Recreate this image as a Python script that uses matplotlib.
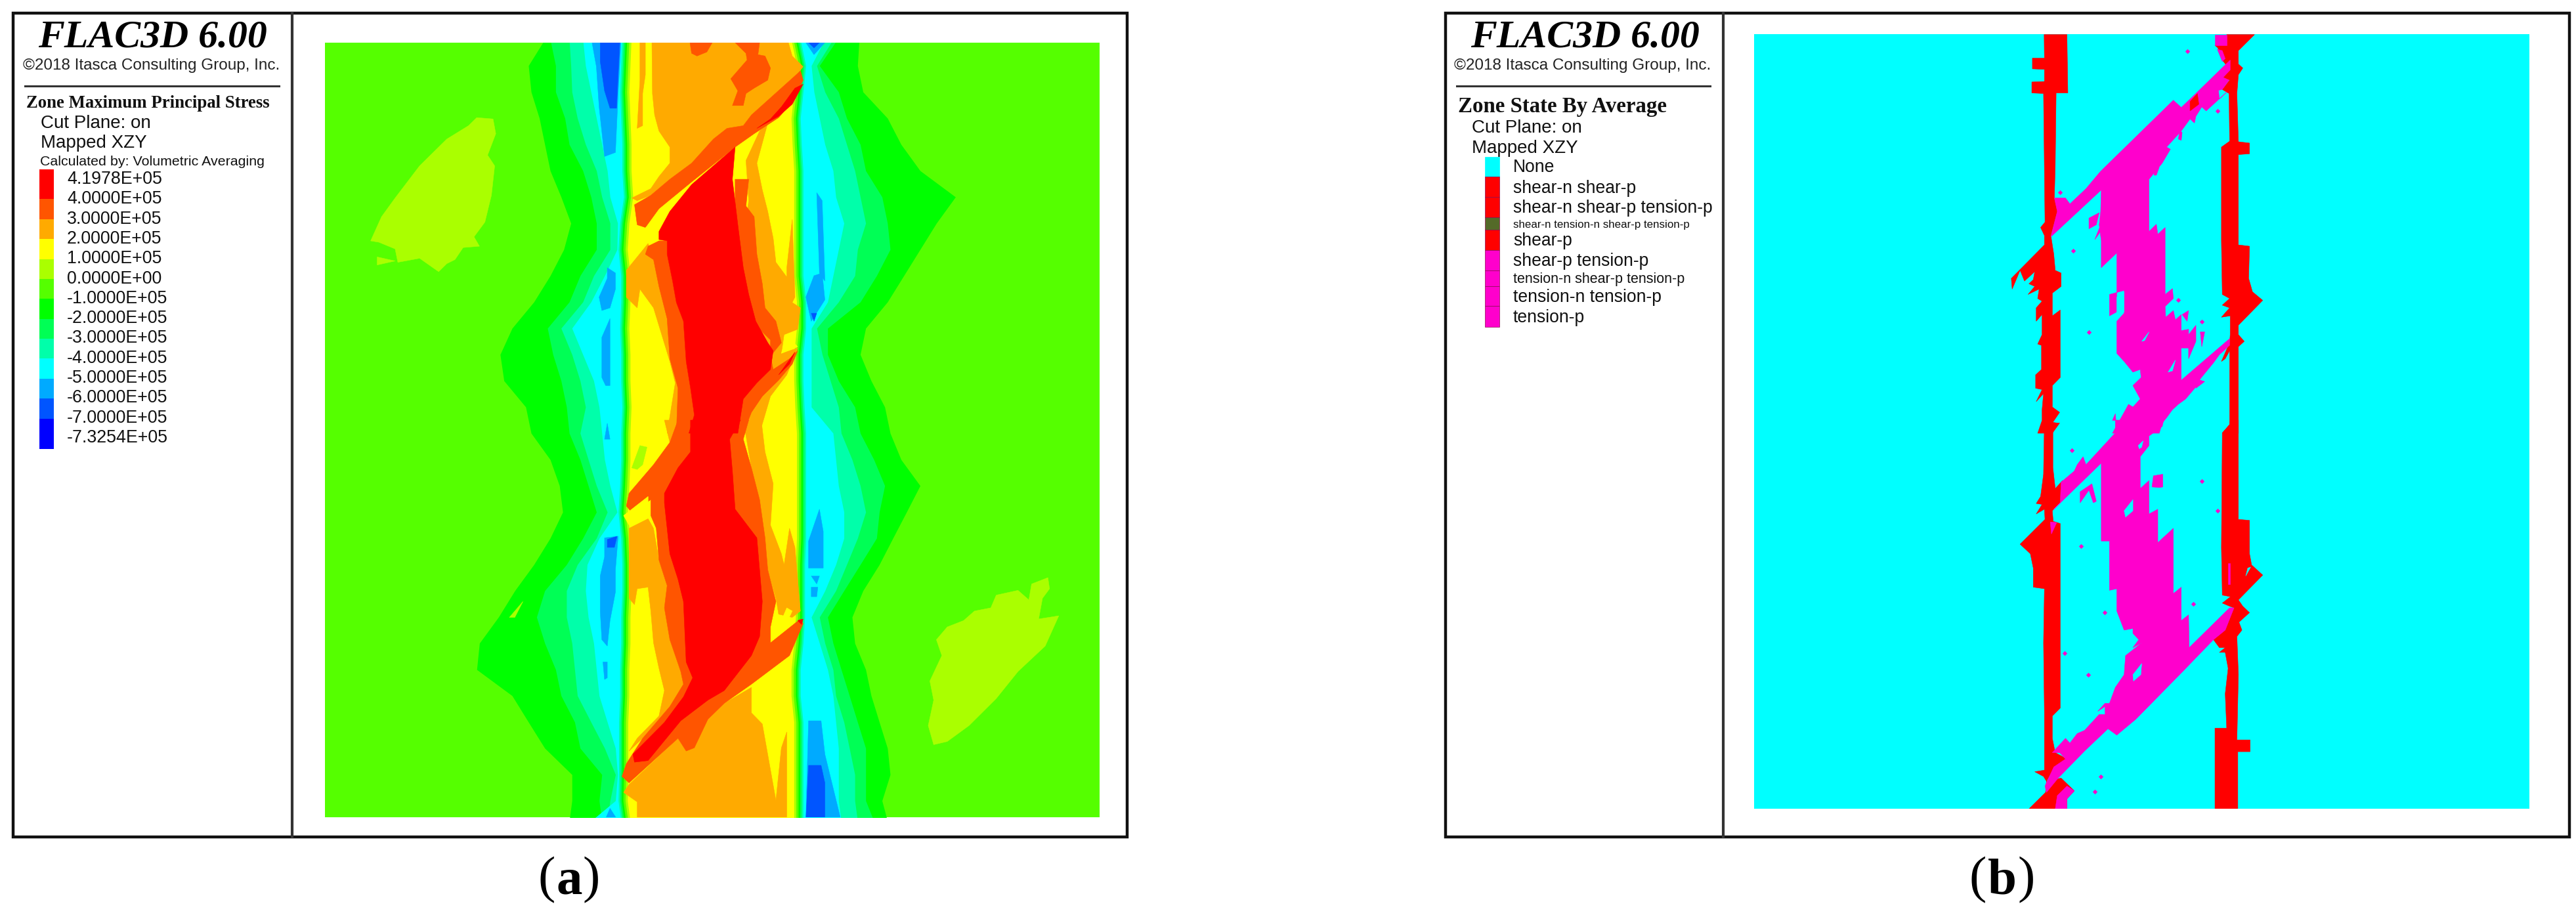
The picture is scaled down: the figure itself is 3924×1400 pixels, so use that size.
import numpy as np
import matplotlib
matplotlib.use("Agg")
import matplotlib.pyplot as plt
from matplotlib.patches import Rectangle

W, H, DPI = 3924, 1400, 100
SANS = ["Liberation Sans", "DejaVu Sans"]
SERIF = ["Liberation Serif", "DejaVu Serif"]

# ---------- text and legend content ----------
TITLE = "FLAC3D 6.00"
COPYRIGHT = "\u00a92018 Itasca Consulting Group, Inc."
STRESS_LEVELS = ["4.1978E+05", "4.0000E+05", "3.0000E+05", "2.0000E+05", "1.0000E+05",
                 "0.0000E+00", "-1.0000E+05", "-2.0000E+05", "-3.0000E+05", "-4.0000E+05",
                 "-5.0000E+05", "-6.0000E+05", "-7.0000E+05", "-7.3254E+05"]
STRESS_COLORS = ["#ff0000", "#ff5500", "#ffaa00", "#ffff00", "#aaff00", "#55ff00", "#00ff00",
                 "#00ff55", "#00ffaa", "#00ffff", "#00aaff", "#0055ff", "#0000ff"]
STRESS_EDGES = [258, 303, 334, 364, 395, 425, 455, 486, 516, 546, 577, 607, 638, 684]
STATE_LABELS = ["None", "shear-n shear-p", "shear-n shear-p tension-p",
                "shear-n tension-n shear-p tension-p", "shear-p", "shear-p tension-p",
                "tension-n shear-p tension-p", "tension-n tension-p", "tension-p"]
STATE_SIZES = [19.1, 19.1, 19.1, 12.2, 19.1, 19.1, 15.5, 19.1, 19.1]
STATE_Y = [255, 287, 317, 342, 367, 398, 425, 453, 484]
STATE_COLORS = ["#00ffff", "#ff0000", "#ff0000", "#546a28", "#ff0000", "#ff00cc", "#ff00cc", "#ff00cc", "#ff00cc"]
STATE_EDGES = [239, 269, 300, 331, 350, 381, 412, 436, 466, 498]

ROWS_UP = [110, 196, 294, 392, 490, 588, 686, 784, 882, 980, 1078, 1176, 1274, 1372, 1470]
ROWS_LO = [41, 124, 206, 289, 371, 454, 536, 619, 701, 784, 866, 949, 1031, 1114, 1196, 1260]

L_GREEN = [470, 440, 445, 460, 470, 480, 500, 518, 505, 480, 450, 410, 388, 395, 435,
           445, 480, 497, 503, 480, 450, 415, 385, 350, 345, 410, 440, 470, 520, 520, 515]
L_G55 = [480, 490, 490, 507, 515, 540, 555, 565, 565, 535, 515, 475, 485, 500, 510,
         515, 535, 550, 565, 540, 510, 470, 455, 470, 490, 500, 525, 535, 575, 570, 575]
L_GAA = [515, 518, 520, 530, 545, 565, 575, 590, 590, 560, 540, 500, 520, 535, 545,
         535, 550, 565, 585, 565, 530, 510, 510, 520, 525, 530, 555, 580, 600, 590, 585]
L_CYAN = [540, 545, 555, 565, 575, 585, 590, 604, 603, 580, 555, 520, 540, 560, 570,
          575, 580, 590, 603, 570, 548, 545, 550, 560, 565, 570, 585, 600, 604, 600, 555]
WALL_L = [612, 610, 608, 610, 612, 612, 615, 608, 605, 610, 610, 608, 610, 610, 612,
          610, 610, 608, 605, 610, 612, 612, 610, 610, 608, 608, 606, 606, 606, 605, 610]
WALL_R = [940, 950, 945, 940, 942, 945, 945, 945, 945, 945, 950, 950, 945, 945, 947,
          950, 950, 950, 950, 950, 948, 948, 948, 945, 940, 940, 945, 945, 945, 945, 945]
R_CYAN = [985, 960, 965, 975, 985, 1000, 1005, 1020, 1010, 1000, 990, 960, 960, 960, 960,
          1000, 1005, 1010, 1020, 1020, 1005, 985, 960, 975, 990, 1000, 1005, 1010, 1010, 1010, 1015]
R_GAA = [1000, 970, 985, 1010, 1025, 1040, 1050, 1060, 1045, 1040, 1010, 970, 980, 995, 1010,
         1015, 1035, 1050, 1060, 1045, 1025, 1005, 975, 985, 1000, 1005, 1020, 1030, 1040, 1040, 1045]
R_G55 = [1008, 975, 1010, 1025, 1050, 1060, 1090, 1100, 1105, 1080, 1050, 990, 990, 1010, 1040,
         1050, 1075, 1095, 1085, 1080, 1050, 1020, 990, 1000, 1015, 1030, 1045, 1060, 1060, 1060, 1075]
R_GREEN = [1048, 1045, 1055, 1100, 1125, 1160, 1225, 1190, 1160, 1130, 1100, 1060, 1050, 1070, 1095,
           1105, 1125, 1160, 1135, 1110, 1085, 1055, 1035, 1040, 1060, 1070, 1085, 1100, 1105, 1090, 1100]

# outlines of stress regions; _U read in the upper crop frame, _L in the lower crop frame
ISLAND_LEFT_U = [(345,390),(375,395),(380,450),(365,530),(378,570),(372,680),(360,780),(340,835),(350,870),(320,875),(305,920),(290,935),(275,965),(240,915),(200,930),(195,880),(165,855),(150,850),(170,760),(195,690),(240,570),(290,470),(330,420)]
ISLAND_TICK_U = [(162,910),(195,925),(162,940)]
ISLAND_RIGHT_L = [(1395,495),(1398,530),(1385,560),(1378,625),(1415,615),(1390,710),(1340,790),(1300,875),(1250,960),(1210,1010),(1185,1020),(1175,960),(1185,880),(1178,820),(1200,740),(1190,690),(1210,650),(1240,630),(1260,600),(1290,590),(1300,550),(1340,535),(1360,565),(1365,515)]

BLUE_AA_U = [
    [(557,110),(610,110),(605,300),(600,520),(580,535),(570,350),(565,200)],
    [(585,950),(600,970),(600,1030),(590,1100),(575,1110),(570,1060),(585,990)],
    [(575,1210),(590,1140),(590,1390),(582,1390),(575,1360)],
    [(950,110),(985,110),(965,155)],
    [(965,980),(980,970),(985,1070),(960,1150),(950,1060)],
    [(970,670),(980,700),(985,1000),(975,970)],
]
BLUE_55_U = [
    [(572,110),(608,110),(602,355),(590,355),(580,290),(572,180)],
    [(955,110),(975,110),(965,130)],
    [(960,1120),(970,1120),(965,1150)],
]
BLUE_AA_L = [
    [(585,10),(590,60),(580,60)],
    [(580,370),(605,365),(600,470),(600,540),(590,630),(585,710),(575,690),(572,600),(572,490),(580,430)],
    [(577,760),(585,760),(585,810),(580,815)],
    [(580,1260),(590,1220),(605,1260)],
    [(975,280),(982,350),(982,465),(955,465),(955,380)],
    [(960,490),(975,490),(970,515)],
    [(960,525),(972,525),(970,555),(960,555)],
    [(955,945),(978,945),(985,1050),(1015,1260),(950,1260)],
]
BLUE_55_L = [
    [(585,375),(603,365),(598,400),(585,400)],
    [(955,1085),(978,1085),(985,1140),(985,1260),(950,1260)],
]

ORANGE_U = [
    [(667,110),(918,110),(925,160),(945,200),(935,225),(850,380),(835,420),(805,430),(780,470),(740,560),(700,620),(665,680),(640,700),(630,690),(640,680),(665,655),(680,610),(700,560),(700,500),(680,440),(672,380),(668,300)],
    [(645,110),(655,110),(655,230),(650,300),(650,420),(640,430),(645,250)],
    [(620,960),(660,860),(670,920),(680,1000),(700,1100),(720,1220),(735,1400),(745,1500),(735,1568),(695,1568),(710,1380),(700,1300),(670,1100),(645,1030),(640,1100),(620,1060)],
    [(840,550),(865,440),(880,410),(860,560),(870,660),(880,740),(890,840),(895,930),(915,985),(915,950),(925,770),(930,1060),(925,1080),(940,1100),(935,1180),(910,1200),(905,1270),(935,1250),(915,1350),(885,1430),(865,1568),(835,1568),(825,1000),(845,700)],
]
ORANGE_L = [
    [(625,340),(660,310),(670,340),(680,440),(695,520),(690,590),(700,690),(720,790),(725,830),(700,900),(650,1000),(625,1040),(640,1000),(680,930),(690,850),(680,780),(670,700),(665,600),(660,525),(640,530),(635,580),(625,560)],
    [(835,0),(868,0),(875,100),(890,200),(885,330),(905,420),(910,455),(920,340),(930,400),(940,600),(925,620),(900,610),(895,560),(880,470),(868,360),(850,150)],
    [(625,1145),(715,1000),(730,1040),(745,1030),(770,935),(800,890),(850,840),(850,920),(870,955),(895,1195),(905,1030),(915,980),(915,1260),(640,1260),(640,1200),(615,1170)],
    [(700,0),(715,0),(700,70),(690,0)],
]
DARK_U = [
    [(737,110),(778,110),(768,145),(750,160),(740,150)],
    [(820,110),(865,110),(862,155),(875,160),(885,205),(880,250),(855,280),(840,300),(835,345),(815,345),(825,290),(812,245),(842,175),(840,150)],
    [(940,215),(935,225),(850,380),(835,420),(805,430),(780,470),(740,560),(700,620),(665,680),(635,715),(640,790),(655,800),(680,730),(740,630),(820,500),(855,450),(900,390),(930,320),(945,250)],
    [(660,870),(680,850),(695,850),(695,900),(705,1000),(712,1080),(725,1150),(730,1300),(738,1400),(745,1500),(735,1568),(712,1568),(715,1400),(700,1290),(695,1140),(680,1020),(670,920),(655,900)],
    [(820,620),(845,620),(840,720),(855,760),(860,900),(870,1010),(875,1100),(895,1150),(905,1230),(885,1280),(890,1330),(920,1290),(935,1260),(925,1310),(900,1370),(870,1430),(850,1490),(835,1568),(815,1568),(835,1440),(860,1380),(885,1330),(885,1220),(860,1170),(850,1100),(835,1000),(830,900),(820,760)],
]
DARK_L = [
    [(715,0),(700,70),(670,140),(625,230),(620,270),(630,290),(665,250),(665,300),(675,340),(680,440),(695,520),(690,590),(700,690),(720,790),(725,830),(700,900),(650,1000),(620,1080),(612,1120),(625,1140),(715,1000),(730,1040),(745,1030),(770,940),(800,890),(850,830),(920,740),(925,720),(915,700),(885,700),(885,650),(895,570),(880,470),(875,370),(865,250),(850,150),(835,60),(845,0)],
    [(885,700),(940,625),(945,640),(925,720),(905,730)],
]
RED_U = [
    [(820,500),(740,640),(700,740),(680,815),(680,845),(695,850),(695,900),(705,1000),(712,1080),(725,1150),(730,1300),(738,1400),(745,1500),(735,1568),(825,1568),(835,1440),(860,1380),(885,1330),(890,1260),(880,1230),(858,1150),(845,1050),(835,950),(825,790),(815,620)],
    [(945,265),(930,280),(905,350),(885,395),(860,430),(900,385),(925,340)],
    [(900,1350),(930,1265),(920,1310)],
]
RED_L = [
    [(738,0),(738,100),(715,150),(690,230),(690,260),(700,420),(715,500),(725,570),(730,760),(742,810),(725,870),(690,950),(632,1050),(635,1075),(660,1070),(720,945),(770,880),(800,850),(850,740),(865,680),(870,570),(860,370),(820,280),(815,160),(810,60),(830,0)],
    [(935,630),(945,625),(942,642)],
]
YELLOW_U = [[(625,840),(660,795),(665,810),(632,860)], [(905,1270),(915,1200),(935,1245)]]
YELLOW_L = [[(615,300),(660,240),(660,290),(625,330)], [(900,650),(915,590),(925,600),(910,655)]]
LIME_L = [[(630,150),(645,80),(658,85),(650,140),(640,155)], [(405,620),(430,570),(415,620)]]

# ---------- panel (b): failure-state outlines ----------
STATE_RED_U = [
    [(367,80),(445,80),(448,298),(408,298),(405,570),(402,690),(412,740),(390,830),(400,900),(405,960),(425,970),(425,1020),(395,1045),(395,1130),(422,1108),(422,1360),(395,1390),(395,1470),(420,1490),(395,1530),(420,1530),(395,1568),(345,1568),(360,1520),(360,1480),(365,1420),(340,1450),(360,1405),(338,1400),(338,1350),(358,1330),(358,1240),(345,1235),(360,1200),(360,1125),(340,1150),(340,1100),(360,1075),(345,1065),(350,1030),(312,1050),(335,1020),(315,1010),(330,995),(335,965),(300,1000),(285,960),(258,1030),(255,990),(368,865),(368,830),(355,800),(370,780),(365,300),(325,298),(325,257),(368,255),(368,210),(327,208),(327,168),(368,168)],
    [(990,80),(1085,80),(1030,140),(1030,190),(1045,205),(1030,230),(1025,300),(1030,480),(1068,485),(1068,525),(1030,528),(1030,865),(1068,870),(1065,990),(1078,1040),(1113,1072),(1030,1165),(1030,1200),(1050,1225),(1030,1245),(1030,1568),(975,1568),(1000,1535),(1000,1260),(985,1290),(972,1300),(1000,1230),(1002,1200),(1002,1130),(972,1135),(1000,1100),(975,1090),(1000,1065),(975,1050),(972,850),(972,500),(1000,478),(998,300),(975,285),(1000,250),(975,240),(1000,210),(975,175),(960,130),(950,120),(990,120)],
]
STATE_RED_L = [
    [(360,0),(415,10),(397,30),(397,150),(405,215),(430,190),(425,255),(395,285),(398,318),(422,325),(422,905),(395,930),(395,1000),(405,1045),(445,1065),(400,1095),(375,1135),(425,1125),(470,1165),(445,1190),(445,1222),(315,1222),(372,1170),(375,1135),(365,1120),(335,1105),(368,1100),(368,920),(365,700),(368,530),(330,525),(330,465),(320,420),(285,390),(370,312),(368,280),(340,295),(360,265),(340,262),(355,240),(365,170),(368,0)],
    [(1030,0),(1030,312),(1068,315),(1068,420),(1075,455),(1113,487),(1030,565),(1045,585),(1068,605),(1032,635),(1042,660),(1025,680),(1030,800),(1025,1005),(1070,1005),(1070,1042),(1028,1042),(1028,1222),(950,1222),(950,968),(990,968),(985,860),(995,780),(985,730),(965,730),(985,715),(965,715),(945,690),(985,660),(1015,590),(1000,585),(975,575),(1003,555),(975,550),(972,400),(975,40),(1000,15),(1002,0)],
]
STATE_MAG_U = [
    [(1002,175),(1002,212),(978,240),(998,250),(975,285),(962,288),(965,320),(990,295),(920,365),(905,350),(885,385),(880,410),(865,395),(835,440),(785,500),(798,508),(770,560),(725,620),(725,815),(750,788),(755,825),(780,800),(780,1050),(805,1028),(808,1065),(780,1095),(782,1135),(808,1110),(815,1145),(835,1125),(835,1185),(860,1180),(860,1250),(835,1250),(835,1370),(1000,1215),(1000,1240),(965,1275),(945,1305),(900,1365),(885,1395),(850,1440),(825,1460),(805,1480),(785,1510),(770,1530),(760,1568),(600,1568),(640,1490),(655,1460),(670,1470),(695,1440),(680,1410),(670,1390),(698,1360),(695,1330),(670,1340),(640,1300),(615,1270),(615,1150),(640,1120),(640,1035),(590,1050),(590,1130),(615,1115),(615,895),(562,950),(562,850),(555,790),(560,740),(562,660),(390,835),(412,740),(402,690),(440,690),(455,712),(510,655),(560,590),(808,325),(835,352),(880,305)],
    [(950,80),(990,80),(990,120),(950,120)],
    [(958,135),(975,140),(985,170),(975,180)],
    [(520,765),(555,745),(545,790),(520,805)],
    [(540,845),(560,790),(585,790),(560,815)],
    [(838,1125),(860,1110),(855,1150)],
    [(860,1200),(885,1165),(885,1225),(860,1290)],
    [(900,1190),(915,1190),(905,1245)],
    [(780,1320),(815,1285),(805,1340),(780,1365)],
    [(885,1365),(915,1375),(885,1400)],
    [(600,1520),(610,1495),(612,1520)],
    [(830,440),(838,445),(835,475),(825,470)],
    [(745,580),(760,575),(750,605),(742,605)],
]
STATE_MAG_L = [
    [(610,0),(775,0),(770,20),(725,50),(725,80),(695,115),(695,215),(725,190),(725,295),(755,280),(755,385),(808,340),(808,545),(835,525),(835,630),(860,612),(862,715),(1000,590),(1015,590),(985,660),(945,690),(840,790),(680,940),(615,990),(585,970),(505,1040),(415,1125),(375,1170),(370,1150),(400,1090),(440,1065),(420,1045),(395,1045),(440,1000),(455,1015),(480,985),(505,975),(555,925),(575,925),(575,900),(550,915),(575,890),(590,890),(610,840),(640,800),(645,740),(700,700),(670,715),(690,690),(670,670),(670,655),(640,660),(615,600),(615,530),(590,535),(590,380),(562,380),(562,135),(400,280),(422,260),(425,195),(470,160),(480,140),(500,115),(510,140),(610,40)],
    [(405,1222),(412,1180),(445,1150),(470,1165),(445,1190),(445,1222)],
    [(490,225),(530,200),(545,255),(535,260),(520,220),(490,260)],
    [(740,175),(772,170),(772,210),(760,212),(735,210)],
    [(995,450),(1002,450),(1002,515),(995,515)],
    [(388,320),(410,322),(392,358)],
]
STATE_RED_CHIP_U = [[(865,330),(890,300),(895,340),(865,365)]]
STATE_CYAN_U = [[(615,1060),(640,1040),(640,1115),(615,1140)], [(700,1225),(725,1190),(710,1222)], [(790,1340),(815,1295),(805,1335)]]
STATE_CYAN_L = [[(640,285),(670,250),(670,285),(645,305)], [(670,800),(700,765),(697,800),(672,820)], [(1055,490),(1072,462),(1062,465)], [(688,80),(705,65),(700,85),(692,90)]]
SPECK_U = [(855,142),(422,668),(960,366),(465,888),(520,1190),(825,1070),(905,1152)]
SPECK_L = [(462,95),(905,192),(960,285),(492,397),(875,578),(573,605),(437,732),(517,800),(560,1120),(540,1167)]


# crop-frame readings -> model coordinates (x stays, y becomes image row)
def up(points):
    a = np.asarray(points, float)
    return np.column_stack([a[:, 0], 20 + a[:, 1] / 2.45])


def lo(points):
    a = np.asarray(points, float)
    return np.column_stack([a[:, 0], 640 + a[:, 1] / 2.063])


def px_axes(fig, x0, y0, x1, y1):
    ax = fig.add_axes([x0 / W, 1 - y1 / H, (x1 - x0) / W, (y1 - y0) / H])
    ax.axis("off")
    return ax


def fill_all(ax, polys, frame, color, z):
    for p in polys:
        q = frame(p)
        ax.fill(q[:, 0], q[:, 1], color=color, lw=0.4, zorder=z)


fig = plt.figure(figsize=(W / DPI, H / DPI), dpi=DPI, facecolor="white")
bg = px_axes(fig, 0, 0, W, H)
bg.set_xlim(0, W)
bg.set_ylim(H, 0)


def frame_and_title(x0, xdiv, x1, rule_x0, rule_x1, tx, cx):
    bg.add_patch(Rectangle((x0, 20), x1 - x0, 1255, fill=False, ec="#111111", lw=3.2))
    bg.plot([xdiv, xdiv], [20, 1275], color="#333333", lw=3)
    bg.plot([rule_x0, rule_x1], [131, 131], color="#333333", lw=2.2)
    bg.text(tx, 57, TITLE, family=SERIF, style="italic", weight="bold", fontsize=43,
            ha="center", va="center", color="black")
    bg.text(cx, 100, COPYRIGHT, family=SANS, fontsize=17.5, ha="center", va="center", color="#222222")


def label(x, y, s, size, **kw):
    kw.setdefault("family", SANS)
    bg.text(x, y, s, fontsize=size, ha="left", va="center", color="#111111", **kw)


# legend (a)
frame_and_title(20, 445, 1717, 38, 425, 232, 231)
label(40, 157, "Zone Maximum Principal Stress", 19.3, family=SERIF, weight="bold")
label(62, 188, "Cut Plane: on", 20)
label(62, 218, "Mapped XZY", 20)
label(61, 246, "Calculated by: Volumetric Averaging", 15.4)
for i, c in enumerate(STRESS_COLORS):
    bg.add_patch(Rectangle((60, STRESS_EDGES[i]), 22, STRESS_EDGES[i + 1] - STRESS_EDGES[i], fc=c, lw=0))
for i, s in enumerate(STRESS_LEVELS):
    label(102, 273 + i * 30.3, s, 19.3)

# legend (b)
frame_and_title(2202, 2625, 3914, 2219, 2605, 2414, 2411)
label(2221, 162, "Zone State By Average", 23.7, family=SERIF, weight="bold")
label(2242, 195, "Cut Plane: on", 20)
label(2242, 226, "Mapped XZY", 20)
for i, c in enumerate(STATE_COLORS):
    bg.add_patch(Rectangle((2262, STATE_EDGES[i]), 22, STATE_EDGES[i + 1] - STATE_EDGES[i], fc=c,
                           ec="#8a0a50" if i else c, lw=0.5))
for s, y, fs in zip(STATE_LABELS, STATE_Y, STATE_SIZES):
    label(2305, y, s, fs)

# captions
for cx, letter, half in ((867, "a", 21), (3050, "b", 24)):
    bg.text(cx - half, 1341, "(", family=SERIF, fontsize=57, ha="right", va="center", color="black")
    bg.text(cx, 1343, letter, family=SERIF, weight="bold", fontsize=57, ha="center", va="center", color="black")
    bg.text(cx + half, 1341, ")", family=SERIF, fontsize=57, ha="left", va="center", color="black")

# panel (a) contour
axa = px_axes(fig, 495, 65, 1675, 1245)
axa.set_xlim(66, 1490)
axa.set_ylim(1245, 65)
axa.add_patch(Rectangle((66, 65), 1424, 1180, fc="#55ff00", lw=0, zorder=0))
rows = np.concatenate([up(np.column_stack([ROWS_UP, ROWS_UP]))[:, 1], lo(np.column_stack([ROWS_LO, ROWS_LO]))[:, 1]])
rows[0] = 60
for xl, xr, c in ((L_GREEN, R_GREEN, "#00ff00"), (L_G55, R_G55, "#00ff55"),
                  (L_GAA, R_GAA, "#00ffaa"), (L_CYAN, R_CYAN, "#00ffff")):
    axa.fill_betweenx(rows, xl, xr, color=c, lw=0, zorder=1)
fill_all(axa, [ISLAND_LEFT_U, ISLAND_TICK_U], up, "#aaff00", 2)
fill_all(axa, [ISLAND_RIGHT_L], lo, "#aaff00", 2)
fill_all(axa, BLUE_AA_U, up, "#00aaff", 3)
fill_all(axa, BLUE_AA_L, lo, "#00aaff", 3)
fill_all(axa, BLUE_55_U, up, "#0055ff", 4)
fill_all(axa, BLUE_55_L, lo, "#0055ff", 4)
wl, wr = np.array(WALL_L, float), np.array(WALL_R, float)
for off, c in ((0, "#00ffaa"), (3, "#00ff55"), (6, "#00ff00"), (9, "#55ff00"), (13, "#aaff00"), (17, "#ffff00")):
    axa.fill_betweenx(rows, wl + off, wr - off, color=c, lw=0, zorder=5)
fill_all(axa, ORANGE_U, up, "#ffaa00", 6)
fill_all(axa, ORANGE_L, lo, "#ffaa00", 6)
fill_all(axa, DARK_U, up, "#ff5500", 7)
fill_all(axa, DARK_L, lo, "#ff5500", 7)
fill_all(axa, RED_U, up, "#ff0000", 8)
fill_all(axa, RED_L, lo, "#ff0000", 8)
fill_all(axa, YELLOW_U, up, "#ffff00", 9)
fill_all(axa, YELLOW_L, lo, "#ffff00", 9)
fill_all(axa, LIME_L, lo, "#aaff00", 9)

# panel (b) state map
axb = px_axes(fig, 2672, 52, 3853, 1232)
axb.set_xlim(-622.7, 2023)
axb.set_ylim(1232, 52)
axb.add_patch(Rectangle((-622.7, 52), 2645.7, 1180, fc="#00ffff", lw=0, zorder=0))
fill_all(axb, STATE_RED_U, up, "#ff0000", 1)
fill_all(axb, STATE_RED_L, lo, "#ff0000", 1)
fill_all(axb, STATE_MAG_U, up, "#ff00cc", 2)
fill_all(axb, STATE_MAG_L, lo, "#ff00cc", 2)
fill_all(axb, STATE_RED_CHIP_U, up, "#ff0000", 3)
fill_all(axb, STATE_CYAN_U, up, "#00ffff", 3)
fill_all(axb, STATE_CYAN_L, lo, "#00ffff", 3)
su, sl = up(SPECK_U), lo(SPECK_L)
axb.scatter(np.r_[su[:, 0], sl[:, 0]], np.r_[su[:, 1], sl[:, 1]], s=14, marker="D", c="#ff00cc", lw=0, zorder=4)

fig.savefig("out.png", dpi=DPI, facecolor="white")
